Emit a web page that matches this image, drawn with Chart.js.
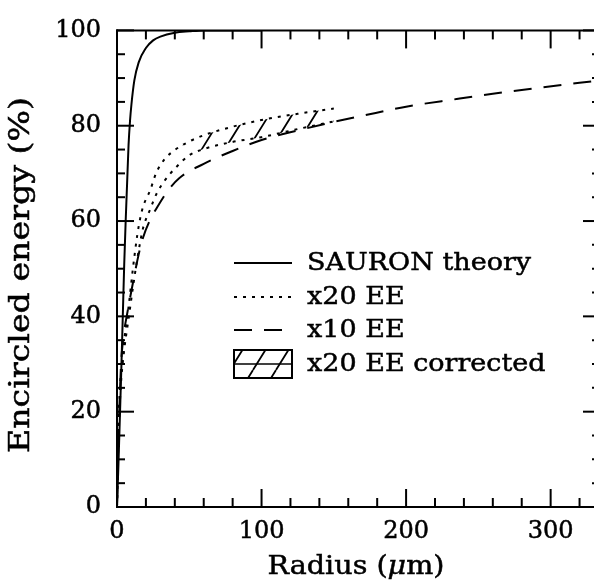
<!DOCTYPE html>
<html>
<head>
<meta charset="utf-8">
<script src="https://cdn.jsdelivr.net/npm/chart.js@4.4.1/dist/chart.umd.min.js"></script>
<style>
  html, body { margin: 0; padding: 0; background: #fff; }
  #wrap { width: 594px; height: 586px; }
</style>
</head>
<body>
<div id="wrap"><canvas id="c" width="594" height="586"></canvas></div>
<script>
// Encircled energy curves, radius in micrometres, energy in percent
const theoryR  = [0, 1, 2, 3, 4, 5, 6, 7, 8, 9, 10, 12, 15, 20, 25, 30, 40, 50, 60, 80, 100];
const theoryEE = [0, 9, 19, 29, 40, 51, 60, 68, 76, 81, 84.5, 89.5, 93.3, 96.3, 97.9, 98.7, 99.5, 99.8, 100, 100, 100];

const x20R      = [0, 1, 2, 3, 5, 8, 11, 14, 16, 18, 23, 27, 33, 40, 50, 60, 80, 100, 125, 150];
const x20EE     = [0, 14, 22, 27, 33, 39.5, 46, 52, 55.5, 58.5, 62.5, 65.5, 68.5, 71, 73.8, 75.1, 76.6, 77.6, 79.3, 80.9];
const x20CorrEE = [0, 17, 25, 29, 35, 42, 50, 57, 60.5, 63, 66.5, 70, 73, 74.9, 76.7, 78, 79.8, 81.2, 82.5, 83.6];
const hatchFromR = 45;   // the corrected band is hatched from this radius outwards

const x10R  = [0, 1, 2, 3, 4, 5, 7, 11, 15, 18, 23, 28, 35, 43, 60, 80, 100, 125, 150, 170, 200, 235, 260, 290, 320, 334];
const x10EE = [0, 14, 24, 31, 34.5, 37, 40.5, 47, 53, 56.5, 60.3, 63, 66.3, 69, 72, 74.7, 77, 79, 80.8, 82.1, 84, 85.6, 86.7, 87.9, 89, 89.5];

const xTickLabels = [0, 100, 200, 300];
const yTickLabels = [0, 20, 40, 60, 80, 100];
const seriesNames = ['SAURON theory', 'x20 EE', 'x10 EE', 'x20 EE corrected'];

const SERIF = '"DejaVu Serif", "Liberation Serif", serif';
const DOTS = [3, 6];
const DASHES = [18, 12];
const HATCH_DX = 23, HATCH_SLOPE = 0.62;   // horizontal spacing, dx per dy

function pts(xs, ys) { return xs.map((v, i) => ({ x: v, y: ys[i] })); }

const canvas = document.getElementById('c');
const ctx0 = canvas.getContext('2d');

// canvas-sized hatch pattern, lines only right of the band start
let bandPattern = null, bandKey = '';
function bandHatch(c) {
  const chart = c.chart;
  if (!chart.chartArea || !chart.scales.x) return 'rgba(0,0,0,0)';
  const x0 = chart.scales.x.getPixelForValue(hatchFromR);
  const key = chart.width + 'x' + chart.height + '@' + x0;
  if (bandPattern && key === bandKey) return bandPattern;
  const t = document.createElement('canvas');
  t.width = chart.width; t.height = chart.height;
  const g = t.getContext('2d');
  g.save();
  g.beginPath(); g.rect(x0, 0, t.width - x0, t.height); g.clip();
  g.strokeStyle = '#000';
  g.lineWidth = 1.8;
  g.beginPath();
  const span = t.height * HATCH_SLOPE;
  for (let bx = -Math.ceil(span / HATCH_DX) * HATCH_DX; bx < t.width + HATCH_DX; bx += HATCH_DX) {
    g.moveTo(bx, t.height); g.lineTo(bx + span, 0);
  }
  g.stroke();
  g.restore();
  bandPattern = chart.ctx.createPattern(t, 'no-repeat');
  bandKey = key;
  return bandPattern;
}

// small repeating hatch for the legend swatch
function legendHatch() {
  const h = 37, w = HATCH_DX;
  const t = document.createElement('canvas');
  t.width = w; t.height = h;
  const g = t.getContext('2d');
  g.strokeStyle = '#000';
  g.lineWidth = 1.8;
  g.beginPath();
  g.moveTo(0, h); g.lineTo(w, 0);
  g.moveTo(-w, h); g.lineTo(0, 0);
  g.moveTo(w, h); g.lineTo(2 * w, 0);
  g.stroke();
  return ctx0.createPattern(t, 'repeat');
}
const swatch = legendHatch();

function seg(ctx, x1, y1, x2, y2) {
  ctx.beginPath(); ctx.moveTo(x1, y1); ctx.lineTo(x2, y2); ctx.stroke();
}

// frame with inward major/minor ticks; the right edge sits just past the canvas
const framePlugin = {
  id: 'frame',
  afterDatasetsDraw(chart) {
    const { ctx, chartArea: a, scales: { x, y } } = chart;
    const right = a.right + 6;
    ctx.save();
    ctx.strokeStyle = '#000';
    ctx.lineWidth = 2;
    ctx.setLineDash([]);
    ctx.lineCap = 'square';
    seg(ctx, a.left, a.top, right, a.top);
    seg(ctx, a.left, a.top, a.left, a.bottom);
    seg(ctx, a.left, a.bottom, right, a.bottom);
    ctx.lineCap = 'butt';
    for (let v = x.min; v <= x.max; v += 20) {
      const px = x.getPixelForValue(v);
      const len = v % 100 === 0 ? 18 : 9;
      seg(ctx, px, a.bottom, px, a.bottom - len);
      seg(ctx, px, a.top, px, a.top + len);
    }
    for (let v = y.min; v <= y.max; v += 5) {
      const py = y.getPixelForValue(v);
      const len = v % 20 === 0 ? 17 : 8;
      seg(ctx, a.left, py, a.left + len, py);
      seg(ctx, right, py, right - len, py);
    }
    ctx.restore();
  }
};

function wideText(ctx, text, x, y, sx) {
  ctx.save();
  ctx.translate(x, y);
  ctx.scale(sx, 1);
  ctx.fillText(text, 0, 0);
  ctx.strokeText(text, 0, 0);
  ctx.restore();
}

// axis titles (with italic mu) and the in-plot legend
const labelPlugin = {
  id: 'labels',
  afterDraw(chart) {
    const { ctx } = chart;
    const ds = chart.data.datasets;
    ctx.save();
    ctx.fillStyle = '#000';
    ctx.strokeStyle = '#000';
    ctx.textBaseline = 'middle';
    ctx.textAlign = 'left';

    // x title: Radius (μm)
    ctx.lineWidth = 0.5;
    const sx = 1.1;
    const up = '26px ' + SERIF, it = 'italic 26px ' + SERIF;
    const parts = [['Radius (', up], ['\u03bc', it], ['m)', up]];
    let total = 0;
    parts.forEach(p => { ctx.font = p[1]; total += ctx.measureText(p[0]).width * sx; });
    let cx = 356 - total / 2;
    parts.forEach(p => {
      ctx.font = p[1];
      wideText(ctx, p[0], cx, 567, sx);
      cx += ctx.measureText(p[0]).width * sx;
    });

    // y title
    ctx.save();
    ctx.translate(22, 275);
    ctx.rotate(-Math.PI / 2);
    ctx.font = '27px ' + SERIF;
    const sy = 1.23;
    const wy = ctx.measureText('Encircled energy (%)').width * sy;
    wideText(ctx, 'Encircled energy (%)', -wy / 2, 0, sy);
    ctx.restore();

    // legend
    const rows = [263, 297, 330, 364];
    const x1 = 234, x2 = 292, tx = 307;
    for (let i = 0; i < 3; i++) {
      ctx.lineWidth = 2;
      ctx.setLineDash(ds[i].borderDash || []);
      seg(ctx, x1, rows[i], x2, rows[i]);
    }
    ctx.setLineDash([]);
    const bt = rows[3] - 14, bb = rows[3] + 14;
    ctx.save();
    ctx.beginPath(); ctx.rect(x1, bt, x2 - x1, bb - bt); ctx.clip();
    ctx.fillStyle = swatch;
    ctx.fillRect(x1, bt, x2 - x1, bb - bt);
    ctx.restore();
    ctx.lineWidth = 2;
    ctx.strokeRect(x1, bt, x2 - x1, bb - bt);
    ctx.lineWidth = 1.6;
    seg(ctx, x1, rows[3], x2, rows[3]);
    ctx.font = '25px ' + SERIF;
    ctx.lineWidth = 0.5;
    for (let i = 0; i < 4; i++) wideText(ctx, ds[i].label, tx, rows[i], 1.08);
    ctx.restore();
  }
};

new Chart(canvas, {
  type: 'line',
  data: {
    datasets: [
      { label: seriesNames[0], data: pts(theoryR, theoryEE), borderColor: '#000', borderWidth: 2,
        pointRadius: 0, fill: false, cubicInterpolationMode: 'monotone' },
      { label: seriesNames[1], data: pts(x20R, x20EE), borderColor: '#000', borderWidth: 2,
        borderDash: DOTS, pointRadius: 0, fill: false, cubicInterpolationMode: 'monotone' },
      { label: seriesNames[2], data: pts(x10R, x10EE), borderColor: '#000', borderWidth: 2,
        borderDash: DASHES, pointRadius: 0, fill: false, cubicInterpolationMode: 'monotone' },
      { label: seriesNames[3], data: pts(x20R, x20CorrEE), borderColor: '#000', borderWidth: 2,
        borderDash: DOTS, pointRadius: 0, backgroundColor: bandHatch, fill: 1,
        cubicInterpolationMode: 'monotone' }
    ]
  },
  options: {
    responsive: false,
    animation: false,
    devicePixelRatio: 1,
    layout: { padding: { left: 0, top: 20, right: 0, bottom: 0 } },
    plugins: { legend: { display: false }, tooltip: { enabled: false }, filler: { propagate: false } },
    scales: {
      x: {
        type: 'linear', min: 0, max: 330,
        afterFit(s) { s.height = 79; },
        afterBuildTicks(s) { s.ticks = xTickLabels.map(v => ({ value: v })); },
        grid: { display: false, drawTicks: false },
        border: { display: false },
        ticks: { color: '#000', padding: 10, maxRotation: 0, autoSkip: false,
                 textStrokeColor: '#000', textStrokeWidth: 0.5,
                 font: { family: SERIF, size: 24 } }
      },
      y: {
        type: 'linear', min: 0, max: 100,
        afterFit(s) { s.width = 117; },
        afterBuildTicks(s) { s.ticks = yTickLabels.map(v => ({ value: v })); },
        grid: { display: false, drawTicks: false },
        border: { display: false },
        ticks: { color: '#000', padding: 16, textStrokeColor: '#000', textStrokeWidth: 0.5,
                 font: { family: SERIF, size: 24 } }
      }
    }
  },
  plugins: [framePlugin, labelPlugin]
});
</script>
</body>
</html>
